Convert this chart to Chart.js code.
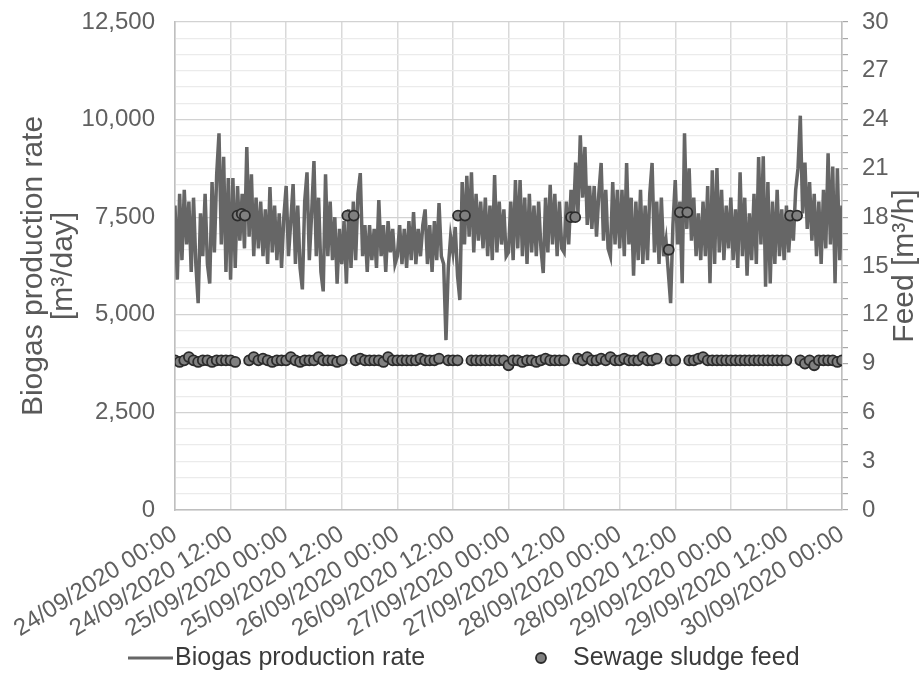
<!DOCTYPE html>
<html>
<head>
<meta charset="utf-8">
<script src="https://cdn.jsdelivr.net/npm/chart.js@4.4.1/dist/chart.umd.min.js"></script>
<style>
  body { margin: 0; background: #fff; }
  #wrap { width: 920px; height: 675px; }
</style>
</head>
<body>
<div id="wrap"><canvas id="BiogasChart" width="920" height="675"></canvas></div>
<script>
// x-axis tick labels, one every 12 h
const dateLabels = [
  "24/09/2020 00:00", "24/09/2020 12:00", "25/09/2020 00:00", "25/09/2020 12:00",
  "26/09/2020 00:00", "26/09/2020 12:00", "27/09/2020 00:00", "27/09/2020 12:00",
  "28/09/2020 00:00", "28/09/2020 12:00", "29/09/2020 00:00", "29/09/2020 12:00",
  "30/09/2020 00:00"
];

// biogas production rate [m3/day], one value every 30 min (row = 6 h)
const biogasRate = [
  7800, 5900, 8100, 6400, 8200, 6800, 7900, 6100, 8000, 6300, 5300, 7600,
  6500, 8100, 6300, 5800, 8400, 6600, 8600, 9650, 6800, 9050, 6100, 8500,
  5900, 8500, 6200, 8300, 6900, 8100, 6700, 9300, 7000, 8600, 6500, 8000,
  6700, 7900, 6500, 7700, 6300, 8270, 6600, 7800, 6400, 7600, 6200, 7500,
  8300, 6500, 7400, 8350, 6300, 7800, 6200, 5650, 7900, 8650, 6400, 7600,
  8940, 6500, 8000, 6100, 5600, 8600, 6500, 7900, 6400, 7500, 5800, 7200,
  6300, 7400, 5800, 7700, 6200, 7900, 6400, 8100, 8630, 6500, 7300, 6100,
  7300, 6400, 7200, 6200, 7940, 6500, 7300, 6100, 7400, 6600, 7200, 6300,
  6500, 7300, 6300, 7200, 6200, 7400, 6400, 7630, 6300, 7200, 6500, 7300,
  7700, 6300, 7300, 6100, 7400, 6400, 7860, 6500, 6300, 4350, 6200, 7000,
  6600, 7250, 6000, 5380, 8400, 6800, 8560, 7000, 8650, 6600, 8100, 6900,
  7900, 6700, 8000, 6500, 7800, 6400, 8580, 6600, 7900, 6800, 7700, 6500,
  6600, 7900, 6400, 8450, 6700, 8450, 6500, 8000, 6300, 8100, 6600, 7800,
  6500, 7900, 6700, 6070, 8000, 6600, 8330, 6800, 8100, 6500, 7900, 6700,
  6600, 7900, 6800, 8200, 7400, 8900, 7600, 9600, 8000, 9300, 7300, 8300,
  7200, 8300, 7000, 8100, 8890, 6900, 8200, 6700, 6500, 8400, 6800, 8200,
  6700, 8200, 6500, 8890, 6800, 8000, 6000, 7900, 6400, 8200, 6300, 7800,
  6400, 8100, 8890, 6600, 7900, 6300, 8000, 6500, 6900, 6100, 5300, 7300,
  8450, 6800, 7900, 5810, 9650, 7200, 8750, 6900, 8000, 6500, 7600, 6400,
  7900, 6500, 8300, 5810, 8700, 6300, 8760, 6600, 8200, 6400, 7800, 6700,
  8000, 6400, 7700, 6200, 8650, 6500, 8000, 6000, 7600, 6400, 8100, 6300,
  9040, 6800, 9060, 5720, 8400, 5800, 7900, 6300, 8200, 6500, 7700, 6400,
  7800, 6600, 7600, 6900, 8200, 8750, 10100, 7600, 8900, 7200, 8400, 6900,
  8100, 6500, 7900, 6300, 8200, 6700, 9140, 6800, 8800, 5810, 8750, 6400,
  7800
];

// sewage sludge feed [m3/h], hourly (null = no reading)
const feedRate = [
  9.2, 9.1, 9.2, 9.4, 9.2, 9.1, 9.2, 9.2, 9.1, 9.2, 9.2, 9.2,
  9.2, 9.1, null, null, 9.2, 9.4, 9.2, 9.3, 9.2, 9.1, 9.2, 9.2,
  9.2, 9.4, 9.2, 9.1, 9.2, 9.2, 9.2, 9.4, 9.2, 9.2, 9.2, 9.1,
  9.2, null, null, 9.2, 9.3, 9.2, 9.2, 9.2, 9.2, 9.1, 9.4, 9.2,
  9.2, 9.2, 9.2, 9.2, 9.2, 9.3, 9.2, 9.2, 9.2, 9.3, null, 9.2,
  9.2, 9.2, null, null, 9.2, 9.2, 9.2, 9.2, 9.2, 9.2, 9.2, 9.2,
  8.9, 9.2, 9.2, 9.1, 9.2, 9.2, 9.1, 9.2, 9.3, 9.2, 9.2, 9.2,
  9.2, null, null, 9.3, 9.2, 9.4, 9.2, 9.2, 9.3, 9.2, 9.4, 9.2,
  9.2, 9.3, 9.2, 9.2, 9.2, 9.4, 9.2, 9.2, 9.3, null, null, 9.2,
  9.2, null, null, 9.2, 9.2, 9.3, 9.4, 9.2, 9.2, 9.2, 9.2, 9.2,
  9.2, 9.2, 9.2, 9.2, 9.2, 9.2, 9.2, 9.2, 9.2, 9.2, 9.2, 9.2,
  9.2, null, null, 9.2, 9.0, 9.2, 8.9, 9.2, 9.2, 9.2, 9.2, 9.1,
  9.2
];

// extra feed readings off the hourly grid (double feed periods)
const highFeedHours = [13.5, 14.4, 15.1, 37.2, 38.6, 61.1, 62.6, 85.5, 86.4, 106.6, 109.0, 110.6, 132.8, 134.3];
const highFeedRate  = [18.1, 18.2, 18.1, 18.1, 18.1, 18.1, 18.1, 18.0, 18.0, 16.0, 18.3, 18.3, 18.1, 18.1];

const leftTitle = ["Biogas production rate", "[m\u00B3/day]"];
const rightTitle = "Feed [m\u00B3/h]";

const FONT = '"Liberation Sans", Arial, sans-serif';
const lineColor = "#666666";
const dotFill = "#808080";
const dotBorder = "#2b2b2b";

const biogasPoints = biogasRate.map((v, i) => ({ x: i * 0.5, y: v }));
const feedPoints = [];
feedRate.forEach((v, i) => { if (v !== null) feedPoints.push({ x: i, y: v }); });
highFeedHours.forEach((h, i) => feedPoints.push({ x: h, y: highFeedRate[i] }));

const titlesAndLegend = {
  id: "titlesAndLegend",
  afterDraw(chart) {
    const ctx = chart.ctx;
    const area = chart.chartArea;
    const midY = (area.top + area.bottom) / 2;

    ctx.save();
    ctx.fillStyle = "#595959";
    ctx.font = "30px " + FONT;
    ctx.textAlign = "center";
    ctx.textBaseline = "alphabetic";
    ctx.translate(0, midY);
    ctx.rotate(-Math.PI / 2);
    ctx.fillText(leftTitle[0], 0, 42);
    ctx.fillText(leftTitle[1], 0, 72);
    ctx.fillText(rightTitle, 0, 913);
    ctx.restore();

    // legend
    const ds = chart.data.datasets;
    const ly = 658;
    ctx.save();
    ctx.font = "25px " + FONT;
    ctx.fillStyle = "#3a3a3a";
    ctx.textBaseline = "middle";
    ctx.textAlign = "left";
    ctx.strokeStyle = lineColor;
    ctx.lineWidth = 3;
    ctx.beginPath();
    ctx.moveTo(128, ly);
    ctx.lineTo(173, ly);
    ctx.stroke();
    ctx.fillText(ds[0].label, 175, ly);

    ctx.beginPath();
    ctx.arc(541, ly, 5, 0, Math.PI * 2);
    ctx.fillStyle = dotFill;
    ctx.fill();
    ctx.lineWidth = 1.8;
    ctx.strokeStyle = dotBorder;
    ctx.stroke();
    ctx.fillStyle = "#3a3a3a";
    ctx.fillText(ds[1].label, 573, ly);
    ctx.restore();
  }
};

// keep the plot box fixed: y axes should not push the top edge down
const fixY = w => s => { s.width = w; s.paddingTop = 0; s.paddingBottom = 0; };

new Chart(document.getElementById("BiogasChart"), {
  type: "line",
  data: {
    datasets: [
      {
        label: "Biogas production rate",
        data: biogasPoints,
        yAxisID: "y",
        borderColor: lineColor,
        borderWidth: 3.5,
        pointRadius: 0,
        tension: 0,
        order: 1
      },
      {
        type: "scatter",
        label: "Sewage sludge feed",
        data: feedPoints,
        yAxisID: "y1",
        backgroundColor: dotFill,
        borderColor: dotBorder,
        borderWidth: 1.8,
        pointRadius: 5,
        order: 0
      }
    ]
  },
  options: {
    responsive: false,
    animation: false,
    layout: { padding: { top: 22, left: 0, right: 0, bottom: 0 } },
    plugins: {
      legend: { display: false },
      tooltip: { enabled: false }
    },
    scales: {
      x: {
        type: "linear",
        min: 0,
        max: 144,
        afterFit: s => { s.height = 165; },
        ticks: {
          stepSize: 12,
          autoSkip: false,
          minRotation: 32,
          maxRotation: 32,
          padding: 10,
          color: "#606060",
          font: { size: 24, family: FONT },
          callback: v => dateLabels[v / 12]
        },
        grid: { color: "#d9d9d9", lineWidth: 1.5, drawTicks: false },
        border: { color: "#bfbfbf", width: 1.5 }
      },
      y: {
        position: "left",
        min: 0,
        max: 12500,
        afterFit: fixY(175),
        ticks: {
          stepSize: 2500,
          padding: 20,
          color: "#606060",
          font: { size: 24, family: FONT },
          callback: v => v.toLocaleString("en-US")
        },
        grid: { display: false, drawTicks: false },
        border: { color: "#bfbfbf", width: 1.5 }
      },
      y1: {
        position: "right",
        min: 0,
        max: 30,
        afterFit: fixY(78),
        ticks: {
          stepSize: 1,
          autoSkip: false,
          padding: 14,
          color: "#606060",
          font: { size: 24, family: FONT },
          callback: v => (v % 3 === 0 ? v : "")
        },
        grid: {
          color: c => (c.tick && c.tick.value % 6 === 0 ? "#d2d2d2" : "#ebebeb"),
          lineWidth: 1.2,
          tickLength: 6,
          tickColor: "#a8a8a8"
        },
        border: { color: "#bfbfbf", width: 1.5 }
      }
    }
  },
  plugins: [titlesAndLegend]
});
</script>
</body>
</html>
